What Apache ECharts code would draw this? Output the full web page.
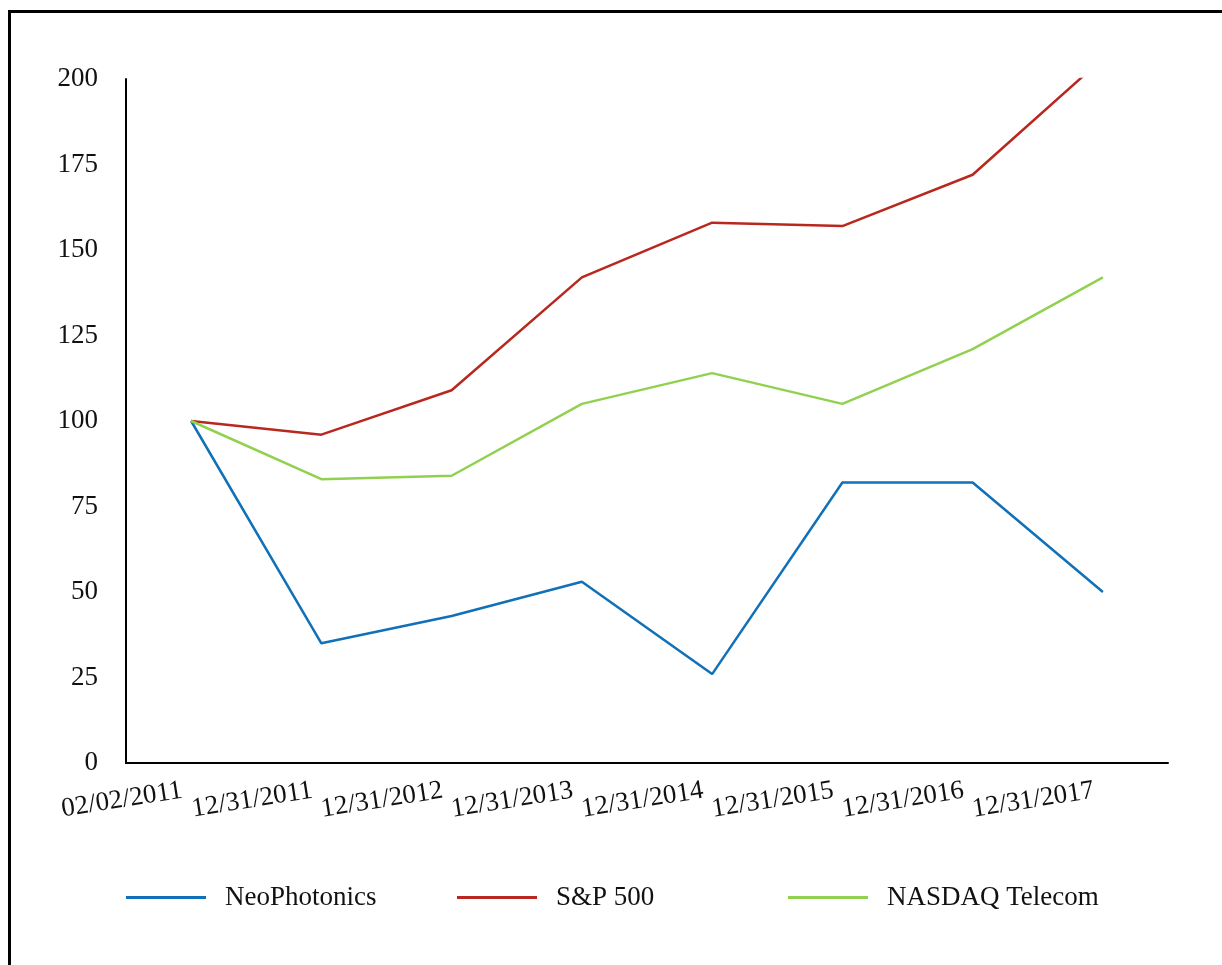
<!DOCTYPE html>
<html>
<head>
<meta charset="utf-8">
<script src="https://cdn.jsdelivr.net/npm/echarts@6/dist/echarts.min.js"></script>
<style>
html,body{margin:0;padding:0;background:#fff;}
#chart{width:1222px;height:965px;}
</style>
</head>
<body>
<div id="chart"></div>
<script>
var categories = ['02/02/2011','12/31/2011','12/31/2012','12/31/2013','12/31/2014','12/31/2015','12/31/2016','12/31/2017'];
var neoPhotonics = [100, 35, 43, 53, 26, 82, 82, 50];
var sp500 = [100, 96, 109, 142, 158, 157, 172, 206];
var nasdaqTelecom = [100, 83, 84, 105, 114, 105, 121, 142];
var seriesNames = ['NeoPhotonics', 'S&P 500', 'NASDAQ Telecom'];
var seriesColors = ['#1070B8', '#B8281E', '#92D050'];

var font = 'Liberation Serif, Times New Roman, serif';
var chart = echarts.init(document.getElementById('chart'));

function legendAt(idx, left) {
  return {
    data: [seriesNames[idx]],
    left: left,
    top: 884,
    padding: 0,
    icon: 'rect',
    itemWidth: 80,
    itemHeight: 3,
    selectedMode: false,
    textStyle: {fontFamily: font, fontSize: 27, color: '#111', padding: [0, 0, 0, 14]}
  };
}

chart.setOption({
  animation: false,
  backgroundColor: '#fff',
  graphic: [{
    type: 'rect',
    shape: {x: 9.5, y: 11.5, width: 1400, height: 1200},
    style: {fill: 'none', stroke: '#000', lineWidth: 3},
    silent: true
  }],
  grid: {left: 126, top: 79, right: 54, bottom: 202},
  legend: [legendAt(0, 126), legendAt(1, 457), legendAt(2, 788)],
  xAxis: {
    type: 'category',
    data: categories,
    boundaryGap: true,
    axisLine: {lineStyle: {color: '#000', width: 2}},
    axisTick: {show: false},
    axisLabel: {interval: 0, rotate: 9, margin: 26, padding: [0, 9, 0, 0], fontFamily: font, fontSize: 27, color: '#111'},
    splitLine: {show: false}
  },
  yAxis: {
    type: 'value',
    min: 0, max: 200, interval: 25,
    axisLine: {show: true, lineStyle: {color: '#000', width: 2}},
    axisTick: {show: false},
    axisLabel: {margin: 28, padding: [6, 0, 0, 0], fontFamily: font, fontSize: 27, color: '#111'},
    splitLine: {show: false}
  },
  series: [
    {name: seriesNames[0], type: 'line', data: neoPhotonics, showSymbol: false, lineStyle: {width: 2.5, color: seriesColors[0]}, itemStyle: {color: seriesColors[0]}},
    {name: seriesNames[1], type: 'line', data: sp500, showSymbol: false, clip: true, lineStyle: {width: 2.5, color: seriesColors[1]}, itemStyle: {color: seriesColors[1]}},
    {name: seriesNames[2], type: 'line', data: nasdaqTelecom, showSymbol: false, lineStyle: {width: 2.5, color: seriesColors[2]}, itemStyle: {color: seriesColors[2]}}
  ]
});
</script>
</body>
</html>
